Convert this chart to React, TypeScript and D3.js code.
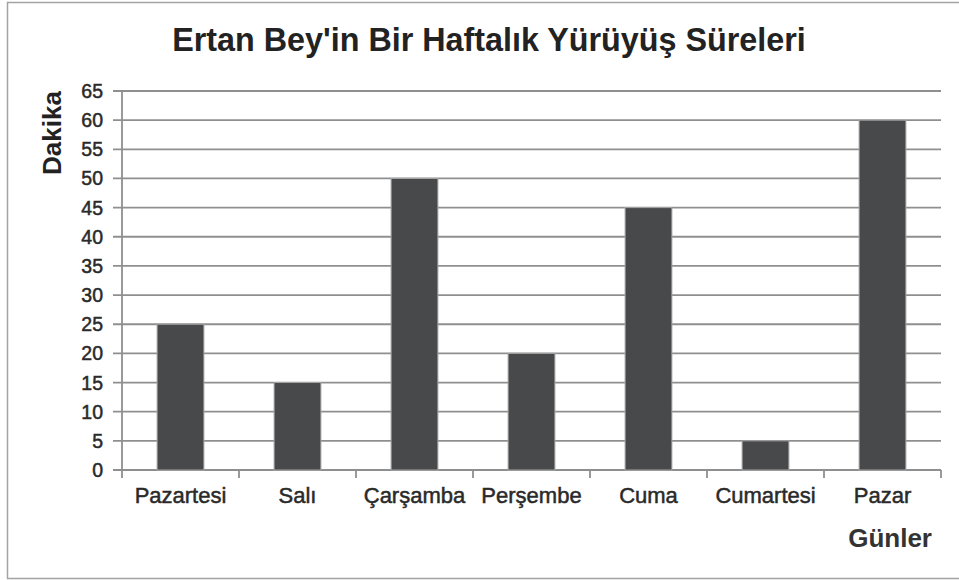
import React from "react";
import * as d3 from "d3";

const categories = ["Pazartesi", "Salı", "Çarşamba", "Perşembe", "Cuma", "Cumartesi", "Pazar"];
const values = [25, 15, 50, 20, 45, 5, 60];
const yTicks = [0, 5, 10, 15, 20, 25, 30, 35, 40, 45, 50, 55, 60, 65];
const title = "Ertan Bey'in Bir Haftalık Yürüyüş Süreleri";
const yTitle = "Dakika";
const xTitle = "Günler";

const W = 959;
const H = 580;
const left = 122;
const right = 941;
const top = 91;
const bottom = 470;
const font = "'Liberation Sans', Arial, sans-serif";

export default function App() {
  const x = d3.scaleBand<string>().domain(categories).range([left, right]).paddingInner(0.6).paddingOuter(0.3);
  const y = d3.scaleLinear().domain([0, 65]).range([bottom, top]);
  const step = (right - left) / categories.length;
  const grid = "#8f8f8f";
  return (
    <svg width={W} height={H} style={{ position: "absolute", left: 0, top: 0, background: "#fff" }}>
      <rect x={0} y={0} width={W} height={H} fill="#fff" />
      <path d={`M${W + 2},2.5 H7.5 V578.5 H${W + 2}`} fill="none" stroke="#a3a3a3" strokeWidth={1.5} />
      <text x={489} y={51} textAnchor="middle" fontFamily={font} fontWeight="bold" fontSize={32.3} fill="#222">
        {title}
      </text>
      {yTicks.map((t) => (
        <g key={t}>
          <line x1={113} x2={right} y1={y(t)} y2={y(t)} stroke={grid} strokeWidth={1.8} />
          <text
            x={103}
            y={y(t) + 7}
            textAnchor="end"
            fontFamily={font}
            fontSize={19.5}
            fill="#2a2a2a"
            stroke="#2a2a2a"
            strokeWidth={0.5}
          >
            {t}
          </text>
        </g>
      ))}
      <line x1={left} x2={left} y1={top} y2={bottom} stroke={grid} strokeWidth={1.8} />
      {d3.range(categories.length + 1).map((i) => (
        <line key={i} x1={left + i * step} x2={left + i * step} y1={bottom} y2={bottom + 8} stroke={grid} strokeWidth={1.8} />
      ))}
      {categories.map((c, i) => (
        <rect
          key={c}
          x={x(c)}
          y={y(values[i])}
          width={x.bandwidth()}
          height={bottom - y(values[i])}
          fill="#48494b"
          stroke="#a5a5a5"
          strokeWidth={1}
        />
      ))}
      {categories.map((c) => (
        <text
          key={c}
          x={(x(c) as number) + x.bandwidth() / 2}
          y={503}
          textAnchor="middle"
          fontFamily={font}
          fontSize={22}
          fill="#2a2a2a"
          stroke="#2a2a2a"
          strokeWidth={0.5}
        >
          {c}
        </text>
      ))}
      <text x={932} y={547} textAnchor="end" fontFamily={font} fontWeight="bold" fontSize={26} fill="#333">
        {xTitle}
      </text>
      <text
        transform={`translate(61,133) rotate(-90)`}
        textAnchor="middle"
        fontFamily={font}
        fontWeight="bold"
        fontSize={26}
        fill="#222"
      >
        {yTitle}
      </text>
    </svg>
  );
}
